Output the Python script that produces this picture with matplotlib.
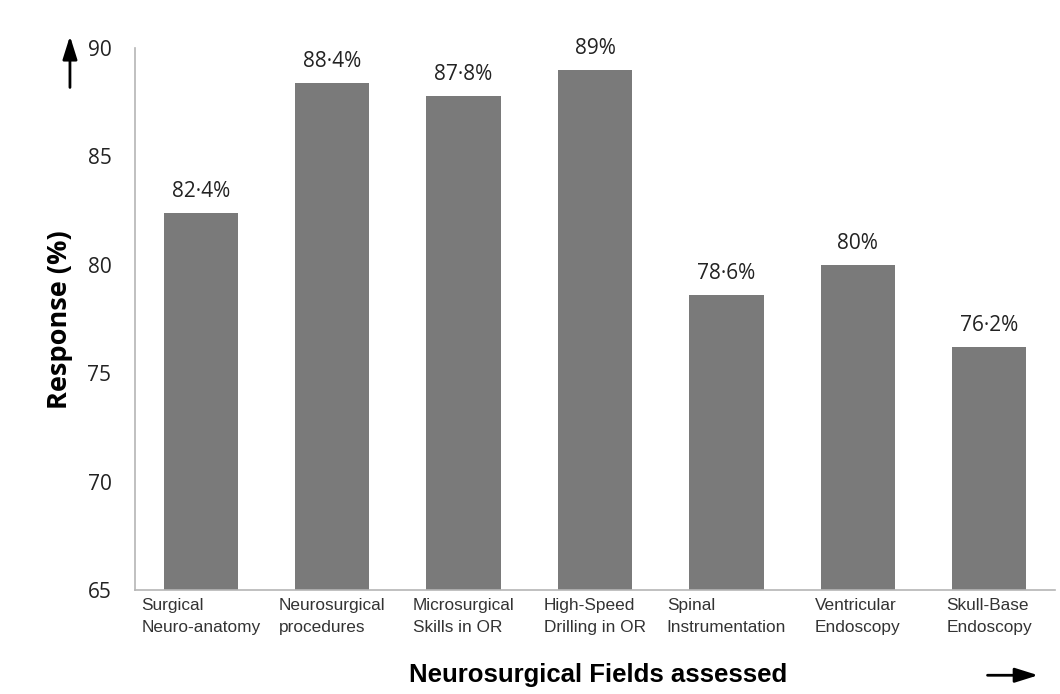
import matplotlib
matplotlib.use("Agg")
import matplotlib.pyplot as plt
from matplotlib.patches import FancyArrowPatch

fields = [
    "Surgical\nNeuro-anatomy",
    "Neurosurgical\nprocedures",
    "Microsurgical\nSkills in OR",
    "High-Speed\nDrilling in OR",
    "Spinal\nInstrumentation",
    "Ventricular\nEndoscopy",
    "Skull-Base\nEndoscopy",
]
response = [82.4, 88.4, 87.8, 89.0, 78.6, 80.0, 76.2]
value_labels = ["82·4%", "88·4%", "87·8%", "89%", "78·6%", "80%", "76·2%"]
yticks = [65, 70, 75, 80, 85, 90]

fig = plt.figure(figsize=(10.6, 6.94), dpi=100)
ax = fig.add_axes([0.1274, 0.1499, 0.8679, 0.7809])

x = range(len(fields))
bars = ax.bar(x, response, width=0.565, color="#7a7a7a")

ax.set_xlim(-0.5, len(fields) - 0.5)
ax.set_ylim(65, 90)
ax.set_yticks(yticks)
ax.set_yticklabels([str(t) for t in yticks], fontsize=15, family="Open Sans",
                   color="#222222")
ax.tick_params(axis="y", length=0, pad=17)

ax.set_xticks(list(x))
ax.set_xticklabels(fields, fontsize=12.4, family="Liberation Sans",
                   color="#333333", multialignment="left", linespacing=1.55)
ax.tick_params(axis="x", length=0, pad=6)

for side in ["top", "right"]:
    ax.spines[side].set_visible(False)
for side in ["left", "bottom"]:
    ax.spines[side].set_color("#b5b5b5")
    ax.spines[side].set_linewidth(1.2)

for bar, lab in zip(bars, value_labels):
    ax.annotate(lab, (bar.get_x() + bar.get_width() / 2, bar.get_height()),
                xytext=(0, 8), textcoords="offset points",
                ha="center", va="bottom", fontsize=15, family="Open Sans",
                color="#222222")

fig.text(0.057, 0.539, "Response (%)", rotation=90, ha="center", va="center",
         fontsize=19.5, fontweight="bold", family="Open Sans")
fig.text(0.564, 0.027, "Neurosurgical Fields assessed", ha="center",
         va="center", fontsize=18.5, fontweight="bold", family="Liberation Sans")

# arrows drawn in figure coordinates
arrow_style = dict(arrowstyle="-|>,head_length=0.7,head_width=0.22",
                   color="black", lw=2, mutation_scale=20)
fig.add_artist(FancyArrowPatch((0.066, 0.870), (0.066, 0.952),
                               transform=fig.transFigure, **arrow_style))
fig.add_artist(FancyArrowPatch((0.929, 0.027), (0.982, 0.027),
                               transform=fig.transFigure, **arrow_style))

fig.savefig("out.png", dpi=100)
